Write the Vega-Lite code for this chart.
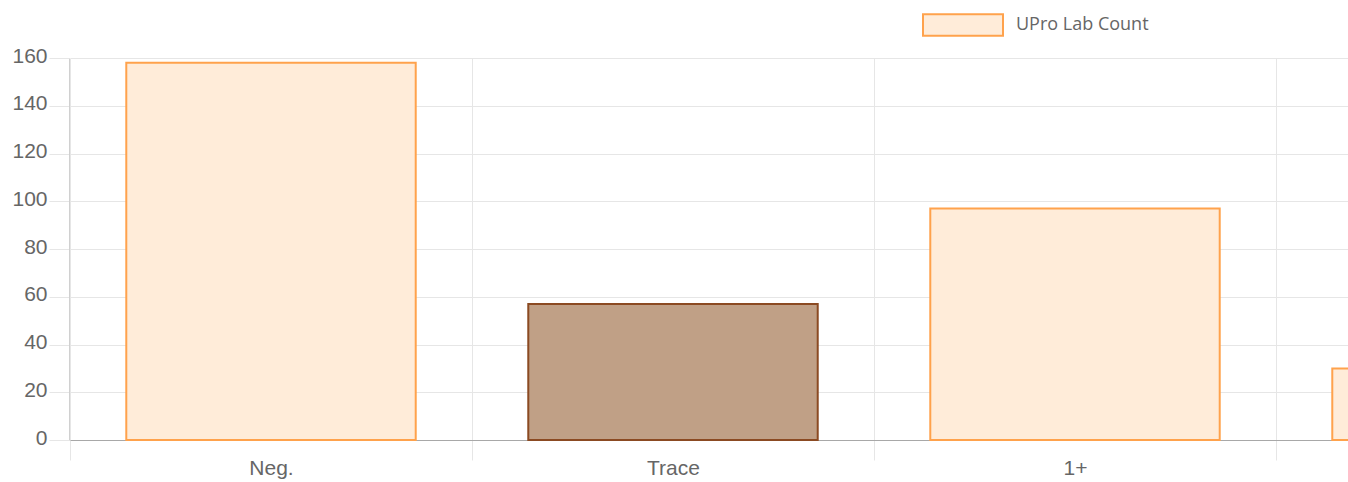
{
  "$schema": "https://vega.github.io/schema/vega-lite/v6.json",
  "autosize": "none",
  "padding": {"left": 69, "top": 58, "right": 0, "bottom": 42},
  "width": 1279,
  "height": 382,
  "background": "white",
  "data": {"values": [
    {"cat": "Neg.", "count": 158},
    {"cat": "Trace", "count": 57},
    {"cat": "1+", "count": 97},
    {"cat": "2+", "count": 30}
  ]},
  "mark": {"type": "bar", "strokeWidth": 2, "width": {"band": 0.72}},
  "encoding": {
    "x": {
      "field": "cat", "type": "nominal", "sort": null,
      "scale": {"range": [1, 1609], "paddingInner": 0, "paddingOuter": 0},
      "axis": {
        "title": null, "labelAngle": 0, "tickBand": "extent", "grid": true,
        "labelExpr": "datum.label == '2+' ? '' : datum.label",
        "gridColor": "#e6e6e6", "tickColor": "#e6e6e6", "tickSize": 20, "tickWidth": 1,
        "domainColor": "#a8a8a8", "domainWidth": 1,
        "labelFont": "Arial", "labelFontSize": 21, "labelColor": "#666666", "labelPadding": -3
      }
    },
    "y": {
      "field": "count", "type": "quantitative",
      "scale": {"domain": [0, 160], "nice": false},
      "axis": {
        "title": null, "values": [0, 20, 40, 60, 80, 100, 120, 140, 160],
        "grid": true, "gridColor": "#e6e6e6", "tickColor": "#e6e6e6", "tickSize": 20,
        "domainColor": "#d0d0d0",
        "labelFont": "Arial", "labelFontSize": 21, "labelColor": "#666666", "labelPadding": 2, "labelOffset": -2
      }
    },
    "fill": {
      "condition": {"test": "datum.cat === 'Trace'", "value": "#c0a086"},
      "datum": "UPro Lab Count",
      "scale": {"range": ["#ffecd9"]},
      "legend": {
        "orient": "none", "legendX": 853, "legendY": -74, "title": null,
        "symbolType": "M-1,-0.27L1,-0.27L1,0.27L-1,0.27Z", "symbolSize": 6400,
        "symbolStrokeColor": "#ffa24c", "symbolStrokeWidth": 2, "symbolFillColor": "#ffecd9",
        "labelFont": "Open Sans", "labelFontSize": 18, "labelColor": "#666666", "labelOffset": 12,
        "padding": 0
      }
    },
    "stroke": {
      "condition": {"test": "datum.cat === 'Trace'", "value": "#8b4a22"},
      "value": "#ffa24c"
    },
    "fillOpacity": {"value": 1}
  },
  "config": {"view": {"stroke": null}}
}
